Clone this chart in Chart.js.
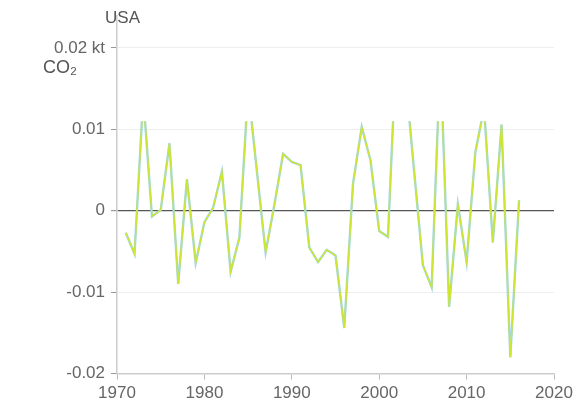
<!DOCTYPE html>
<html>
<head>
<meta charset="utf-8">
<script src="https://cdn.jsdelivr.net/npm/chart.js@4/dist/chart.umd.min.js"></script>
<style>
  body { margin: 0; background: #fff; }
</style>
</head>
<body>
<canvas id="canvas1" width="580" height="405"></canvas>
<script>
/* data */

var years = [1971, 1972, 1973, 1974, 1975, 1976, 1977, 1978, 1979, 1980,
  1981, 1982, 1983, 1984, 1985, 1986, 1987, 1988, 1989, 1990,
  1991, 1992, 1993, 1994, 1995, 1996, 1997, 1998, 1999, 2000,
  2001, 2002, 2003, 2004, 2005, 2006, 2007, 2008, 2009, 2010,
  2011, 2012, 2013, 2014, 2015, 2016];

var co2Change = [-0.0027, -0.0053, 0.014, -0.0007, 0.0001, 0.0083, -0.009, 0.0039, -0.0064, -0.0014,
  0.0004, 0.0048, -0.0075, -0.0033, 0.015, 0.0049, -0.0051, 0.0007, 0.0070, 0.0060,
  0.0056, -0.0045, -0.0063, -0.0048, -0.0055, -0.0144, 0.0033, 0.0103, 0.0062, -0.0025,
  -0.0032, 0.021, 0.0165, 0.0048, -0.0067, -0.0094, 0.019, -0.0118, 0.0008, -0.0063,
  0.0072, 0.0126, -0.0039, 0.0106, -0.018, 0.0013];

var yTicks = [-0.02, -0.01, 0, 0.01, 0.02];
var xTicks = [1970, 1980, 1990, 2000, 2010, 2020];
var cutValue = 0.011; /* line is cut off above this */

/* points */

var points = [];
for (var i = 0; i < years.length; i++) {
  points.push({ x: years[i], y: co2Change[i] });
}

/* plugins */

var clipTop = {
  id: 'clipTop',
  beforeDatasetsDraw: function (chart) {
    var a = chart.chartArea;
    var top = chart.scales.y.getPixelForValue(cutValue);
    chart.ctx.save();
    chart.ctx.beginPath();
    chart.ctx.rect(a.left, top, a.right - a.left, a.bottom - top);
    chart.ctx.clip();
  },
  afterDatasetsDraw: function (chart) {
    chart.ctx.restore();
  }
};

var labels = {
  id: 'labels',
  afterDraw: function (chart) {
    var ctx = chart.ctx;
    var a = chart.chartArea;
    ctx.save();
    ctx.fillStyle = '#555';
    ctx.textBaseline = 'middle';
    ctx.textAlign = 'left';
    ctx.font = '17px "Liberation Sans", Arial, sans-serif';
    ctx.fillText('USA', a.left - 12, 18);
    ctx.font = '18px "Liberation Sans", Arial, sans-serif';
    ctx.fillText('CO\u2082', 43, chart.scales.y.getPixelForValue(0.0175));
    ctx.restore();
  }
};

/* graph */

var font = { family: '"Liberation Sans", Arial, sans-serif', size: 17 };
var ctx = document.getElementById('canvas1').getContext('2d');

var myChart = new Chart(ctx, {
  type: 'line',
  data: {
    datasets: [
      {
        label: 'USA',
        data: points,
        borderColor: '#cfe62c',
        borderWidth: 1.4,
        pointRadius: 0,
        fill: false,
        tension: 0
      },
      {
        label: 'USA shadow',
        data: points,
        borderColor: '#9fd6ec',
        borderWidth: 2.4,
        pointRadius: 0,
        fill: false,
        tension: 0
      }
    ]
  },
  options: {
    responsive: false,
    animation: false,
    devicePixelRatio: 1,
    layout: { padding: { left: 48, right: 26, top: 0, bottom: -3 } },
    plugins: {
      legend: { display: false },
      tooltip: { enabled: false }
    },
    scales: {
      x: {
        type: 'linear',
        min: 1970,
        max: 2020,
        afterBuildTicks: function (axis) {
          axis.ticks = xTicks.map(function (v) { return { value: v }; });
        },
        ticks: {
          color: '#666',
          font: font,
          maxRotation: 0,
          padding: 4,
          callback: function (v) { return String(v); }
        },
        grid: { drawOnChartArea: false, tickLength: 6, color: '#bbb' },
        border: { color: '#ccc', width: 1.5 }
      },
      y: {
        min: -0.02,
        max: 0.0239,
        afterBuildTicks: function (axis) {
          axis.ticks = yTicks.map(function (v) { return { value: v }; });
        },
        ticks: {
          color: '#666',
          font: font,
          padding: 6,
          callback: function (v) {
            if (v === 0.02) return '0.02 kt';
            return String(v);
          }
        },
        grid: {
          color: function (c) { return c.tick && c.tick.value === 0 ? '#555' : '#eee'; },
          lineWidth: function (c) { return c.tick && c.tick.value === 0 ? 1.2 : 1; },
          tickColor: '#999',
          tickLength: 6
        },
        border: { color: '#ccc', width: 1.5 }
      }
    }
  },
  plugins: [clipTop, labels]
});
</script>
</body>
</html>
